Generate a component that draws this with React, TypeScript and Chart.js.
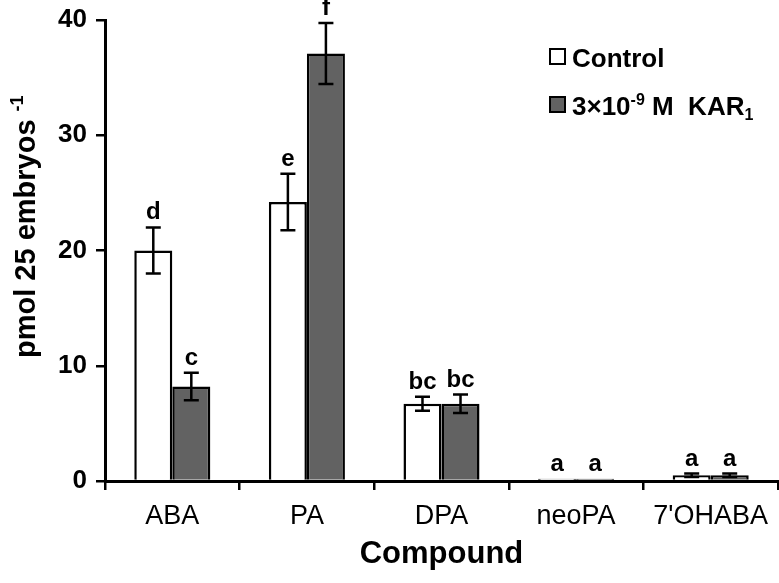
import React, { useEffect, useRef } from "react";
import { Chart, registerables } from "chart.js";

Chart.register(...registerables);

const categories = ["ABA", "PA", "DPA", "neoPA", "7'OHABA"];
const controlValues = [20.0, 24.2, 6.7, 0.2, 0.5];
const controlErrors = [2.0, 2.45, 0.6, 0, 0.15];
const karValues = [8.2, 37.1, 6.7, 0.2, 0.5];
const karErrors = [1.2, 2.65, 0.8, 0, 0.15];
const controlLetters = ["d", "e", "bc", "a", "a"];
const karLetters = ["c", "f", "bc", "a", "a"];
const yTicks = [0, 10, 20, 30, 40];

const FONT = "'Liberation Sans', Arial, sans-serif";
const GRAY = "#626262";

const overlayPlugin = {
  id: "overlay",
  afterDatasetsDraw(chart: any) {
    const ctx = chart.ctx;
    const yScale = chart.scales.y;
    const errs = [controlErrors, karErrors];
    const vals = [controlValues, karValues];
    const letters = [controlLetters, karLetters];
    ctx.save();
    for (let d = 0; d < 2; d++) {
      const meta = chart.getDatasetMeta(d);
      meta.data.forEach((bar: any, i: number) => {
        const v = vals[d][i];
        const e = errs[d][i];
        const x = bar.x;
        const yTop = yScale.getPixelForValue(v + e);
        const yBot = yScale.getPixelForValue(v - e);
        if (e > 0) {
          ctx.strokeStyle = "#000";
          ctx.lineWidth = 2.5;
          ctx.beginPath();
          ctx.moveTo(x, yTop);
          ctx.lineTo(x, yBot);
          ctx.moveTo(x - 7.5, yTop);
          ctx.lineTo(x + 7.5, yTop);
          ctx.moveTo(x - 7.5, yBot);
          ctx.lineTo(x + 7.5, yBot);
          ctx.stroke();
        }
        ctx.fillStyle = "#000";
        ctx.font = `bold 24px ${FONT}`;
        ctx.textAlign = "center";
        ctx.textBaseline = "alphabetic";
        ctx.fillText(letters[d][i], x, yTop - 8);
      });
    }
    ctx.restore();
  },
  afterDraw(chart: any) {
    const ctx = chart.ctx;
    ctx.save();
    // legend
    const boxX = 550;
    const rows = [
      { y: 49, fill: "#ffffff" },
      { y: 97, fill: GRAY },
    ];
    rows.forEach((r) => {
      ctx.fillStyle = r.fill;
      ctx.fillRect(boxX, r.y, 15, 15);
      ctx.strokeStyle = "#000";
      ctx.lineWidth = 2;
      ctx.strokeRect(boxX, r.y, 15, 15);
    });
    ctx.fillStyle = "#000";
    ctx.textAlign = "left";
    ctx.textBaseline = "alphabetic";
    ctx.font = `bold 26px ${FONT}`;
    ctx.fillText(chart.data.datasets[0].label, 572, 67);
    let x = 572;
    const base = 115;
    const parts: [string, number, number][] = [
      ["3×10", 26, 0],
      ["-9", 16, -10],
      [" M  KAR", 26, 0],
      ["1", 16, 5],
    ];
    parts.forEach(([t, size, dy]) => {
      ctx.font = `bold ${size}px ${FONT}`;
      ctx.fillText(t, x, base + dy);
      x += ctx.measureText(t).width;
    });
    // y title
    ctx.translate(35, 358);
    ctx.rotate(-Math.PI / 2);
    ctx.font = `bold 29px ${FONT}`;
    const main = "pmol 25 embryos ";
    ctx.fillText(main, 0, 0);
    const w = ctx.measureText(main).width;
    ctx.font = `bold 18px ${FONT}`;
    ctx.fillText("-1", w, -12);
    ctx.restore();
  },
};

export default function App() {
  const canvasRef = useRef<HTMLCanvasElement | null>(null);
  useEffect(() => {
    document.body.style.margin = "0";
    const canvas = canvasRef.current;
    if (!canvas) return;
    const chart = new Chart(canvas, {
      type: "bar",
      data: {
        labels: categories,
        datasets: [
          {
            label: "Control",
            data: controlValues,
            backgroundColor: "#ffffff",
            borderColor: "#000",
            borderWidth: 2.5,
            borderSkipped: "bottom",
          },
          {
            label: "3×10-9 M KAR1",
            data: karValues,
            backgroundColor: GRAY,
            borderColor: "#000",
            borderWidth: 2.5,
            borderSkipped: "bottom",
          },
        ],
      },
      options: {
        animation: false,
        responsive: false,
        layout: { padding: { left: 48, top: 20, right: 1, bottom: 0 } },
        plugins: {
          legend: { display: false },
          tooltip: { enabled: false },
        },
        datasets: {
          bar: { categoryPercentage: 0.565, barPercentage: 1.0 },
        },
        scales: {
          x: {
            grid: {
              drawOnChartArea: false,
              drawTicks: true,
              tickLength: 9,
              color: "#000",
              lineWidth: 2.5,
              offset: true,
            },
            border: { display: true, color: "#000", width: 3 },
            ticks: {
              color: "#000",
              font: { family: FONT, size: 27 },
              padding: 10,
            },
            title: {
              display: true,
              text: "Compound",
              color: "#000",
              font: { family: FONT, size: 31, weight: "bold" },
              padding: { top: 4, bottom: 10 },
            },
            afterFit(scale: any) {
              scale.height = 102;
              scale.paddingLeft = 0;
              scale.paddingRight = 0;
            },
          },
          y: {
            min: 0,
            max: 40,
            afterBuildTicks(scale: any) {
              scale.ticks = yTicks.map((v) => ({ value: v }));
            },
            grid: {
              drawOnChartArea: false,
              drawTicks: true,
              tickLength: 9,
              color: "#000",
              lineWidth: 2.5,
            },
            border: { display: true, color: "#000", width: 3 },
            ticks: {
              color: "#000",
              font: { family: FONT, size: 26, weight: "bold" },
              padding: 9,
            },
            afterFit(scale: any) {
              scale.width = 57;
              scale.paddingTop = 0;
              scale.paddingBottom = 0;
            },
          },
        },
      },
      plugins: [overlayPlugin],
    });
    return () => chart.destroy();
  }, []);
  return (
    <div style={{ position: "absolute", left: 0, top: 0, width: 779, height: 583, background: "#fff" }}>
      <canvas ref={canvasRef} width={779} height={583} style={{ width: 779, height: 583 }} />
    </div>
  );
}
